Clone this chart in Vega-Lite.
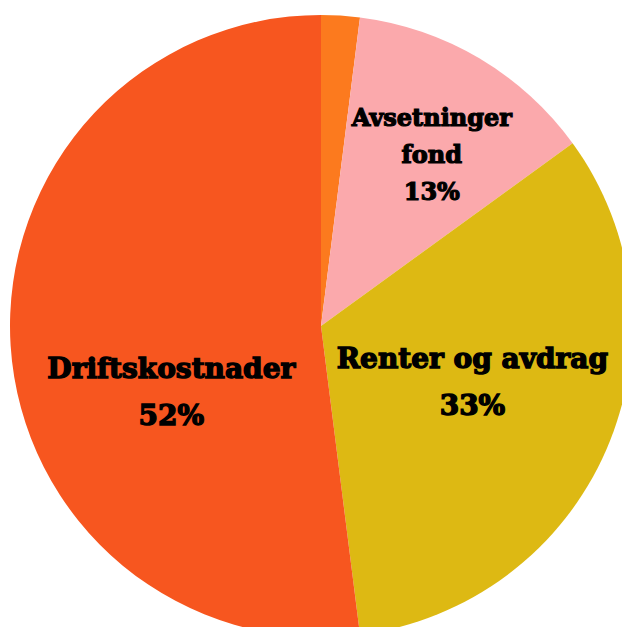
{
  "$schema": "https://vega.github.io/schema/vega-lite/v6.json",
  "width": 642,
  "height": 652,
  "autosize": {"type": "none"},
  "padding": 0,
  "background": "white",
  "config": {"view": {"stroke": null}},
  "data": {
    "values": [
      {"kategori": "Annet", "andel": 2, "rekkefolge": 1, "etikett": [""]},
      {"kategori": "Avsetninger fond", "andel": 13, "rekkefolge": 2, "etikett": ["Avsetninger", "fond", "13%"]},
      {"kategori": "Renter og avdrag", "andel": 33, "rekkefolge": 3, "etikett": ["Renter og avdrag", "33%"]},
      {"kategori": "Driftskostnader", "andel": 52, "rekkefolge": 4, "etikett": ["Driftskostnader", "52%"]}
    ]
  },
  "encoding": {
    "theta": {"field": "andel", "type": "quantitative", "stack": true},
    "order": {"field": "rekkefolge", "type": "quantitative"}
  },
  "layer": [
    {
      "mark": {"type": "arc", "outerRadius": 311},
      "encoding": {
        "color": {
          "field": "kategori",
          "type": "nominal",
          "scale": {
            "domain": ["Annet", "Avsetninger fond", "Renter og avdrag", "Driftskostnader"],
            "range": ["#FC7A1E", "#FBA9AC", "#DDB913", "#F7561F"]
          },
          "legend": null
        }
      }
    },
    {
      "mark": {"type": "text", "radius": 200, "dx": 9, "dy": -35, "font": "DejaVu Serif", "fontWeight": "bold", "fontSize": 24, "lineHeight": 37, "color": "black", "stroke": "black", "strokeWidth": 1.2, "baseline": "middle", "align": "center"},
      "encoding": {
        "text": {"condition": {"test": "datum.kategori === 'Avsetninger fond'", "field": "etikett"}, "value": ""}
      }
    },
    {
      "mark": {"type": "text", "radius": 165, "dy": -32, "font": "DejaVu Serif", "fontWeight": "bold", "fontSize": 28, "lineHeight": 47, "color": "black", "stroke": "black", "strokeWidth": 1.4, "baseline": "middle", "align": "center"},
      "encoding": {
        "text": {"condition": {"test": "datum.kategori === 'Renter og avdrag'", "field": "etikett"}, "value": ""}
      }
    },
    {
      "mark": {"type": "text", "radius": 150, "dy": 35, "font": "DejaVu Serif", "fontWeight": "bold", "fontSize": 28, "lineHeight": 47, "color": "black", "stroke": "black", "strokeWidth": 1.4, "baseline": "middle", "align": "center"},
      "encoding": {
        "text": {"condition": {"test": "datum.kategori === 'Driftskostnader'", "field": "etikett"}, "value": ""}
      }
    }
  ]
}
